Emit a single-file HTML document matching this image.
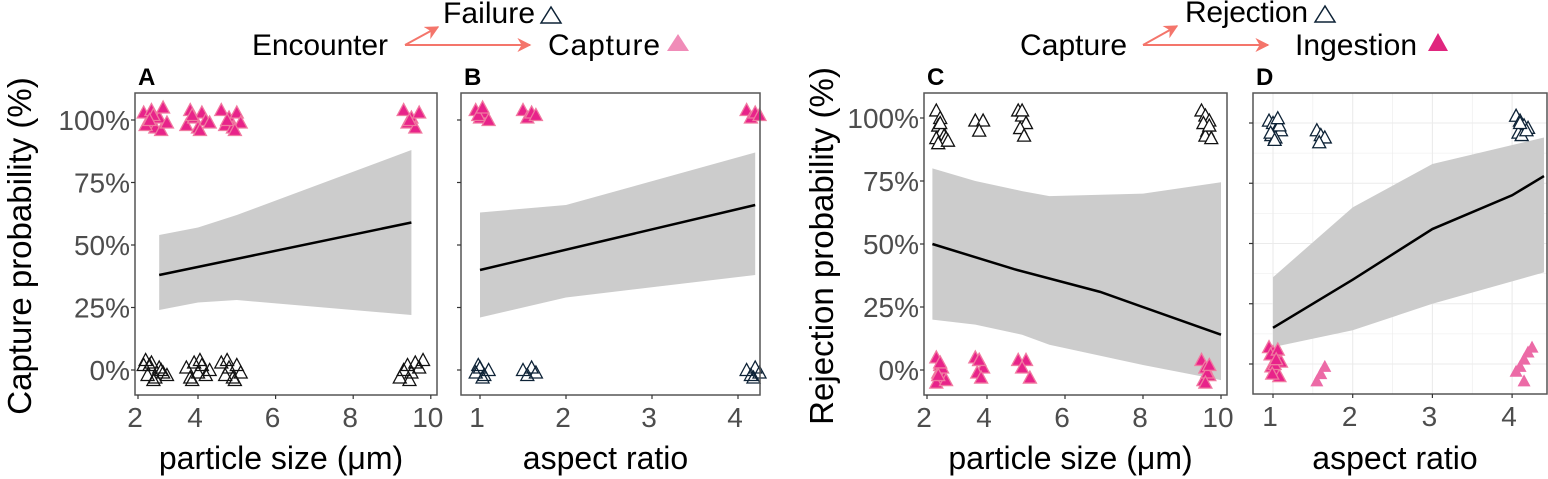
<!DOCTYPE html>
<html><head><meta charset="utf-8">
<style>
body{margin:0;background:#fff;}
svg{display:block;font-family:"Liberation Sans",Arial,sans-serif;}
</style></head>
<body>
<svg id="fig" width="1548" height="479" viewBox="0 0 1548 479" xmlns="http://www.w3.org/2000/svg">
<defs>
<marker id="ar" viewBox="0 0 10 10" refX="9" refY="5" markerWidth="7" markerHeight="7" orient="auto"><path d="M0,0 L10,5 L0,10 L3,5 z" fill="#f4756b"/></marker>
</defs>
<g>
<text x="252" y="55" font-size="30" textLength="136">Encounter</text>
<text x="443" y="23" font-size="30" textLength="92">Failure</text>
<polygon points="541,23 551,7 561,23" fill="none" stroke="#0d2236" stroke-width="1.5"/>
<text x="548" y="55" font-size="30" textLength="112">Capture</text>
<polygon points="667,51 678,34 689,51" fill="#f08cb8"/>
<line x1="405" y1="45" x2="438" y2="27" stroke="#f4756b" stroke-width="2" marker-end="url(#ar)"/>
<line x1="405" y1="45" x2="530" y2="45" stroke="#f4756b" stroke-width="2" marker-end="url(#ar)"/>
</g>
<g>
<text x="1020" y="55" font-size="30" textLength="107">Capture</text>
<text x="1185" y="22" font-size="30" textLength="123">Rejection</text>
<polygon points="1315,22 1325,6 1335,22" fill="none" stroke="#0d2236" stroke-width="1.5"/>
<text x="1295" y="55" font-size="30" textLength="122">Ingestion</text>
<polygon points="1428,51 1438,33 1448,51" fill="#e0267e"/>
<line x1="1143" y1="45" x2="1177" y2="26" stroke="#f4756b" stroke-width="2" marker-end="url(#ar)"/>
<line x1="1143" y1="45" x2="1268" y2="45" stroke="#f4756b" stroke-width="2" marker-end="url(#ar)"/>
</g>
<text transform="translate(31,246) rotate(-90)" text-anchor="middle" font-size="33">Capture probability (%)</text>
<text transform="translate(833,246) rotate(-90)" text-anchor="middle" font-size="33">Rejection probability (%)</text>
</svg>
<script>
// ---- data ----
const ribA_x=[3.0,4.0,5.0,9.5], ribA_hi=[54,57,62,88], ribA_lo=[24,27,28,22], lineA_x=[3.0,9.5], lineA_y=[38,59];
const ribB_x=[1.0,2.0,4.2], ribB_hi=[63,66,87], ribB_lo=[21,29,38], lineB_x=[1.0,4.2], lineB_y=[40,66];
const ribC_x=[2.6,3.7,4.9,5.6,8.0,10.0], ribC_hi=[80,75,71,69,70,74.5], ribC_lo=[20,18,14,10,2,-4], lineC_x=[2.6,4.7,6.9,10.0], lineC_y=[50,40,31,14];
const ribD_x=[1.0,2.0,3.0,4.4], ribD_hi=[36,65,83,94], ribD_lo=[7,14,25,38], lineD_x=[1.0,2.0,3.0,4.0,4.4], lineD_y=[15,35,56,70,78];
const ticksSize=[2,4,6,8,10], ticksAR=[1,2,3,4], ticksPct=[0,25,50,75,100], tickPctLabels=["0%","25%","50%","75%","100%"];
const A_capX=[2.6,2.7,2.8,2.9,3.0,3.1,2.65,2.85,3.05,2.75,3.2,3.7,3.8,3.9,4.0,4.1,4.2,4.3,3.85,4.05,4.6,4.7,4.8,4.9,5.0,5.1,4.75,4.95,9.3,9.4,9.5,9.6,9.7,9.45];
const A_capY=[103,99,104,97,101,105,98,102,96,100,99,98,104,101,97,103,100,99,102,96,104,98,101,97,103,99,100,96,104,99,101,97,103,100];
const A_failX=[2.6,2.7,2.8,2.9,3.0,3.1,2.65,2.85,3.05,2.75,3.2,3.7,3.8,3.9,4.0,4.1,4.2,4.3,3.85,4.05,4.6,4.7,4.8,4.9,5.0,5.1,4.75,4.95,9.2,9.3,9.4,9.5,9.6,9.7,9.8,9.45];
const A_failY=[2,-2,3,-3,1,-1,4,-4,0,2,-2,1,-3,3,-1,2,-2,0,-4,4,3,-2,1,-3,2,-1,4,-4,-3,0,2,-1,3,1,4,-4];
const B_capX=[0.95,1.0,1.05,1.1,0.98,1.03,1.5,1.55,1.6,1.65,4.1,4.15,4.2,4.25];
const B_capY=[104,101,103,100,102,105,104,101,103,102,104,101,103,102];
const B_failX=[0.95,1.0,1.05,1.1,0.98,1.03,1.5,1.55,1.6,1.65,4.1,4.15,4.2,4.25,4.18];
const B_failY=[-1,1,-2,0,2,-3,0,-2,1,-1,0,-2,1,-1,-3];
const C_rejX=[2.7,2.8,2.75,2.85,2.9,2.7,2.95,2.8,2.75,3.0,3.7,3.9,3.8,4.8,4.9,5.0,4.85,4.95,4.9,9.5,9.6,9.7,9.55,9.65,9.6,9.75,9.7];
const C_rejY=[103,100,97,95,93,92,92,98,90,91,99,99,95,103,101,98,96,93,103,103,101,99,98,95,93,92,97];
const C_ingX=[2.7,2.8,2.75,2.9,2.85,2.7,2.95,2.8,2.75,3.7,3.8,3.9,3.75,3.85,3.8,4.8,5.0,5.1,4.9,9.5,9.6,9.7,9.55,9.65,9.6,9.7];
const C_ingY=[5,2,-1,-3,1,-5,-4,3,-2,5,4,1,-1,-3,4,4,4,-3,1,4,1,-2,-4,-1,-5,2];
const D_rejX=[0.95,1.0,1.05,1.1,0.98,1.03,1.08,0.97,1.02,1.06,1.55,1.6,1.65,1.58,4.05,4.1,4.15,4.2,4.08,4.12,4.18,4.1];
const D_rejY=[101,100,98,97,95,94,99,96,93,102,97,95,94,92,103,101,99,98,96,95,97,100];
const D_ingX=[0.95,1.0,1.05,1.1,0.98,1.03,1.08,0.97,1.02,1.06,0.99,1.04];
const D_ingY=[7,5,3,1,-1,-3,-5,4,0,6,-4,2];
const D_ingPaleX=[1.55,1.6,1.65,4.1,4.15,4.2,4.25,4.05,4.15];
const D_ingPaleY=[-7,-4,-1,-1,2,5,7,-3,-7];
// ---- drawing ----
const NS="http://www.w3.org/2000/svg", svg=document.getElementById('fig');
function mk(t,a,p){const e=document.createElementNS(NS,t);for(const k in a)e.setAttribute(k,a[k]);(p||svg).appendChild(e);return e;}
function panel(o){
 const g=mk('g',{});
 
 
 const xs=v=>o.x0+(v-o.xv0)*o.xk, ys=p=>o.y0-p*o.yk;
 if(o.grid){
  for(let v=o.tx[0];v<=o.tx[o.tx.length-1]+0.01;v+=0.5){const l=mk('line',{x1:xs(v),x2:xs(v),y1:o.top,y2:o.bot,stroke:'#ebebeb','stroke-width':v%1?0.6:1.1},g);
   
   }
  for(let p=0;p<=100;p+=12.5){const l=mk('line',{x1:o.left,x2:o.right,y1:ys(p),y2:ys(p),stroke:'#ebebeb','stroke-width':p%25?0.6:1.1},g);
   
   }
 }
 let pts=o.rx.map((v,i)=>xs(v)+','+ys(o.rhi[i])).concat(o.rx.map((v,i)=>xs(v)+','+ys(o.rlo[i])).reverse());
 const rb=mk('polygon',{points:pts.join(' '),fill:'#cccccc'},g);
 
 
 const ln=mk('polyline',{points:o.lx.map((v,i)=>xs(v)+','+ys(o.ly[i])).join(' '),fill:'none',stroke:'#000','stroke-width':2.5},g);
 
 
 o.series.forEach(s=>{s.x.forEach((v,i)=>{const cx=xs(v),cy=ys(s.y[i]);
  const t=mk('polygon',{points:`${cx-6.5},${cy+5.5} ${cx},${cy-6.5} ${cx+6.5},${cy+5.5}`,fill:s.fill,stroke:s.stroke,'stroke-width':1.3,'fill-opacity':s.op||1},g);
  
  });});
 const bx=mk('rect',{x:o.left,y:o.top,width:o.right-o.left,height:o.bot-o.top,fill:'none',stroke:'#555','stroke-width':1.5},g);
 
 
 const pl=mk('text',{x:o.left+3,y:o.top-8,'font-size':24,'font-weight':'bold'},g);pl.textContent=o.label;
 
 
 o.tx.forEach(v=>{const px=Math.max(o.left+3,xs(v));
  const tk=mk('line',{x1:px,x2:px,y1:o.bot,y2:o.bot+4,stroke:'#333','stroke-width':1.2},g);
  
  
  const tl=mk('text',{x:px-3,y:o.bot+32,'font-size':28,fill:'#4d4d4d','text-anchor':'middle'},g);tl.textContent=v;
  
  });
 ticksPct.forEach((p,i)=>{const tk=mk('line',{x1:o.left-4,x2:o.left,y1:ys(p),y2:ys(p),stroke:'#333','stroke-width':1.2},g);
  
  
  if(o.ylab){const tl=mk('text',{x:o.left-5,y:ys(p)+10,'font-size':28,fill:'#4d4d4d','text-anchor':'end'},g);tl.textContent=tickPctLabels[i];
  
  }});
 const xt=mk('text',{x:(o.left+o.right)/2-5,y:469,'font-size':32,'text-anchor':'middle'},g);xt.textContent=o.xtitle;
 
 
}
const PINK='#e8238a';
panel({name:'panel-a',label:'A',left:135,right:437,top:93,bot:395,x0:198,xv0:4,xk:38.8,y0:370,yk:2.5,tx:ticksSize,ylab:true,xtitle:'particle size (\u03bcm)',
 rx:ribA_x,rhi:ribA_hi,rlo:ribA_lo,lx:lineA_x,ly:lineA_y,
 series:[{name:'failure-point',x:A_failX,y:A_failY,fill:'none',stroke:'#111'},{name:'capture-point',x:A_capX,y:A_capY,fill:PINK,stroke:'#f07aa0'}]});
panel({name:'panel-b',label:'B',left:461,right:760,top:93,bot:395,x0:480,xv0:1,xk:86,y0:370,yk:2.5,tx:ticksAR,ylab:false,xtitle:'aspect ratio',
 rx:ribB_x,rhi:ribB_hi,rlo:ribB_lo,lx:lineB_x,ly:lineB_y,
 series:[{name:'failure-point',x:B_failX,y:B_failY,fill:'none',stroke:'#0d2236'},{name:'capture-point',x:B_capX,y:B_capY,fill:PINK,stroke:'#f07aa0'}]});
panel({name:'panel-c',label:'C',left:924,right:1227,top:93,bot:395,x0:987,xv0:4,xk:39,y0:370,yk:2.52,tx:ticksSize,ylab:true,xtitle:'particle size (\u03bcm)',
 rx:ribC_x,rhi:ribC_hi,rlo:ribC_lo,lx:lineC_x,ly:lineC_y,
 series:[{name:'rejection-point',x:C_rejX,y:C_rejY,fill:'#fff',stroke:'#111'},{name:'ingestion-point',x:C_ingX,y:C_ingY,fill:PINK,stroke:'#f07aa0'}]});
panel({name:'panel-d',label:'D',left:1253,right:1547,top:93,bot:394,x0:1273,xv0:1,xk:79.7,y0:364,yk:2.41,tx:ticksAR,ylab:false,grid:true,xtitle:'aspect ratio',
 rx:ribD_x,rhi:ribD_hi,rlo:ribD_lo,lx:lineD_x,ly:lineD_y,
 series:[{name:'rejection-point',x:D_rejX,y:D_rejY,fill:'#fff',stroke:'#0d2236'},{name:'ingestion-point',x:D_ingX,y:D_ingY,fill:PINK,stroke:'#f07aa0'},{name:'ingestion-point-pale',x:D_ingPaleX,y:D_ingPaleY,fill:'#ec6aa6',stroke:'none'}]});
</script>
</body></html>
